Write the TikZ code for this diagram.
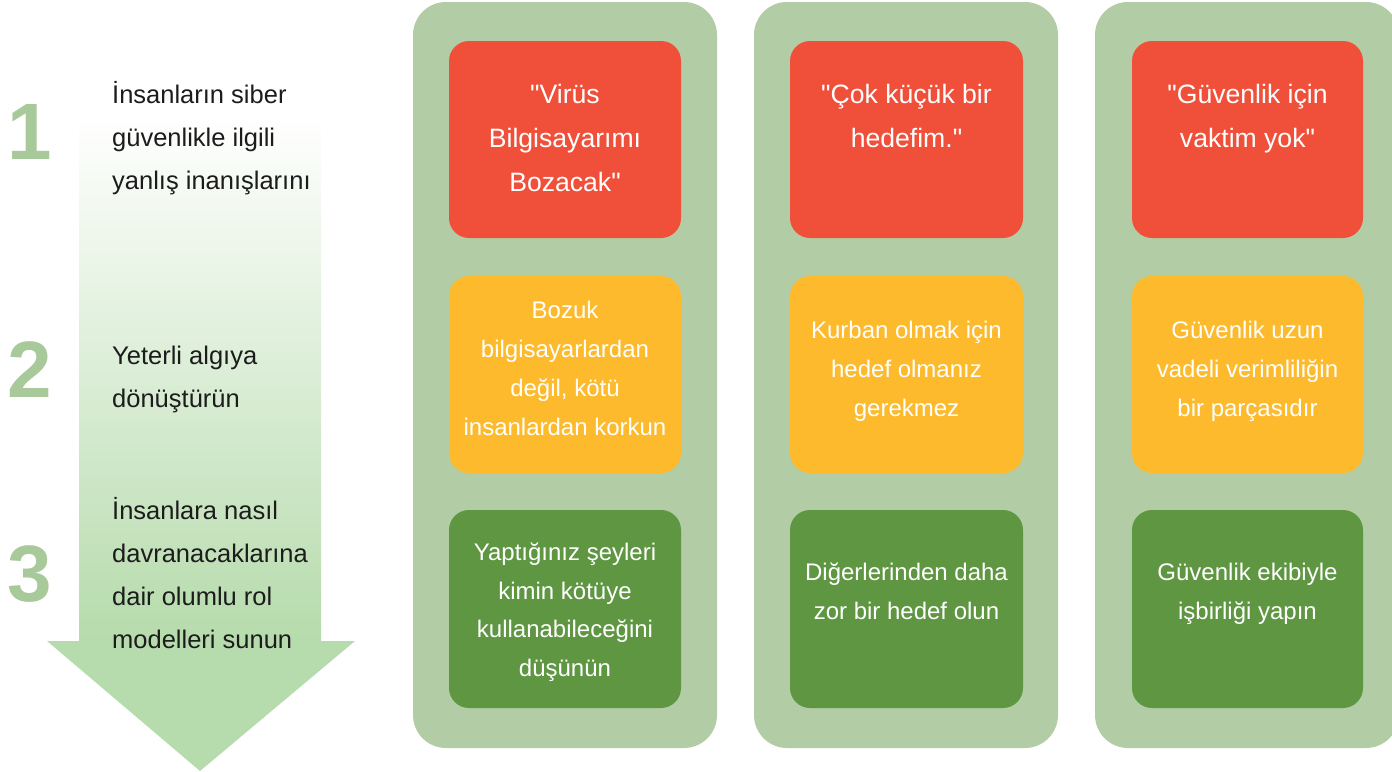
\documentclass[tikz,border=0pt]{standalone}
\usepackage{fontspec}
\setmainfont{Liberation Sans}[Ligatures=TeXOff]
\definecolor{colbg}{HTML}{B2CDA5}
\definecolor{cred}{HTML}{F0503A}
\definecolor{corange}{HTML}{FDBA2C}
\definecolor{cgreen}{HTML}{5E9642}
\definecolor{arrowgreen}{HTML}{B6DBAC}
\definecolor{numgreen}{HTML}{A8C99A}
\definecolor{txtdark}{HTML}{1C1C1C}
\tikzset{
  colbox/.style={fill=colbg, rounded corners=33pt},
  itembox/.style={rounded corners=20pt},
  redtxt/.style={text=white, align=center, inner sep=0pt, font=\fontsize{26.6}{44}\selectfont},
  boxtxt/.style={text=white, align=center, inner sep=0pt, font=\fontsize{24}{38.7}\selectfont},
  lefttxt/.style={text=txtdark, align=left, anchor=west, inner sep=0pt, font=\fontsize{25.5}{43}\selectfont},
  numtxt/.style={text=numgreen, anchor=base, inner sep=0pt, font=\fontsize{80}{80}\selectfont\bfseries}
}
\begin{document}
\begin{tikzpicture}[x=1pt,y=-1pt]
\useasboundingbox (0,0) rectangle (1392,771);
% arrow
\shade[top color=white, bottom color=arrowgreen] (79,115) rectangle (321,641.5);
\fill[arrowgreen] (47,641) -- (355,641) -- (200,771) -- cycle;
% numbers
\node[numtxt] (n1) at (29.5,159) {1};
\node[numtxt] (n2) at (29.5,397) {2};
\node[numtxt] (n3) at (29.5,601) {3};
% left texts
\node[lefttxt] (l1) at (112,137.4) {\strut İnsanların siber\\güvenlikle ilgili\\yanlış inanışlarını\strut};
\node[lefttxt] (l2) at (112,376.9) {\strut Yeterli algıya\\dönüştürün\strut};
\node[lefttxt] (l3) at (112,574.9) {\strut İnsanlara nasıl\\davranacaklarına\\dair olumlu rol\\modelleri sunun\strut};
% columns
\fill[colbox] (413,2) rectangle (717,748);
\fill[colbox] (754,2) rectangle (1058,748);
\fill[colbox] (1095,2) rectangle (1399,748);
% column 1
\fill[itembox, cred] (449,41) rectangle (681,238);
\fill[itembox, corange] (449,276) rectangle (681,473);
\fill[itembox, cgreen] (449,510) rectangle (681,708);
% column 2
\fill[itembox, cred] (790,41) rectangle (1023,238);
\fill[itembox, corange] (790,276) rectangle (1023,473);
\fill[itembox, cgreen] (790,510) rectangle (1023,708);
% column 3
\fill[itembox, cred] (1132,41) rectangle (1363,238);
\fill[itembox, corange] (1132,276) rectangle (1363,473);
\fill[itembox, cgreen] (1132,510) rectangle (1363,708);
% texts column 1
\node[redtxt] (r1) at (565,138.4) {\strut"Virüs\\Bilgisayarımı\\Bozacak"\strut};
\node[boxtxt] (o1) at (565,369.3) {\strut Bozuk\\bilgisayarlardan\\değil, kötü\\insanlardan korkun\strut};
\node[boxtxt] (g1) at (565,610.8) {\strut Yaptığınız şeyleri\\kimin kötüye\\kullanabileceğini\\düşünün\strut};
% texts column 2
\node[redtxt] (r2) at (906.5,116.2) {\strut"Çok küçük bir\\hedefim."\strut};
\node[boxtxt] (o2) at (906.5,369.8) {\strut Kurban olmak için\\hedef olmanız\\gerekmez\strut};
\node[boxtxt] (g2) at (906.5,592.3) {\strut Diğerlerinden daha\\zor bir hedef olun\strut};
% texts column 3
\node[redtxt] (r3) at (1247.5,116.2) {\strut"Güvenlik için\\vaktim yok"\strut};
\node[boxtxt] (o3) at (1247.5,369.8) {\strut Güvenlik uzun\\vadeli verimliliğin\\bir parçasıdır\strut};
\node[boxtxt] (g3) at (1247.5,592.3) {\strut Güvenlik ekibiyle\\işbirliği yapın\strut};
\end{tikzpicture}
\end{document}
